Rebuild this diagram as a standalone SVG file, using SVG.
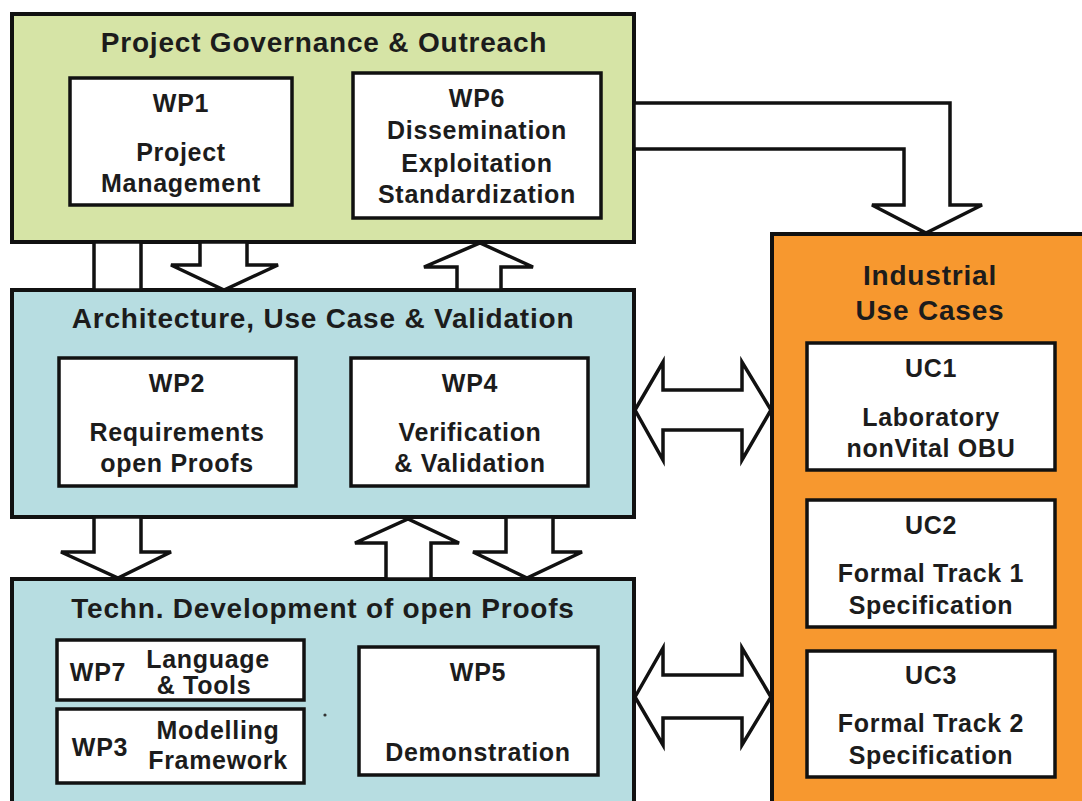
<svg xmlns="http://www.w3.org/2000/svg" width="1082" height="801" viewBox="0 0 1082 801">
<style>
.t{font-family:"Liberation Sans",Arial,sans-serif;font-weight:bold;fill:#1c1c1c;text-anchor:middle;dominant-baseline:central}
.h{font-size:28px;letter-spacing:0.8px}
.b{font-size:25px;letter-spacing:0.7px}
.box{fill:#ffffff;stroke:#111;stroke-width:3.5}
.outer{stroke:#111;stroke-width:4}
.arr{fill:#ffffff;stroke:#111;stroke-width:3.5;stroke-linejoin:miter}
</style>
<rect width="1082" height="801" fill="#ffffff"/>

<g id="governance">
<rect class="outer" x="12" y="14" width="622" height="228" fill="#d6e4a6"/>
<text class="t h" x="324" y="42">Project Governance &amp; Outreach</text>
</g>
<g id="wp1">
<rect class="box" x="70" y="78" width="222" height="127"/>
<text class="t b" x="181" y="103">WP1</text>
<text class="t b" x="181" y="152">Project</text>
<text class="t b" x="181" y="183">Management</text>
</g>
<g id="wp6">
<rect class="box" x="353" y="73" width="248" height="145"/>
<text class="t b" x="477" y="98">WP6</text>
<text class="t b" x="477" y="130">Dissemination</text>
<text class="t b" x="477" y="163">Exploitation</text>
<text class="t b" x="477" y="194">Standardization</text>
</g>

<g id="architecture">
<rect class="outer" x="12" y="290" width="622" height="227" fill="#b7dde1"/>
<text class="t h" x="323" y="318">Architecture, Use Case &amp; Validation</text>
</g>
<g id="wp2">
<rect class="box" x="59" y="358" width="237" height="128"/>
<text class="t b" x="177" y="383">WP2</text>
<text class="t b" x="177" y="432">Requirements</text>
<text class="t b" x="177" y="463">open Proofs</text>
</g>
<g id="wp4">
<rect class="box" x="351" y="358" width="237" height="128"/>
<text class="t b" x="470" y="383">WP4</text>
<text class="t b" x="470" y="432">Verification</text>
<text class="t b" x="470" y="463">&amp; Validation</text>
</g>

<g id="techdev">
<rect class="outer" x="12" y="579" width="622" height="240" fill="#b7dde1"/>
<text class="t h" x="323" y="608">Techn. Development of open Proofs</text>
<circle cx="325" cy="715" r="1.6" fill="#333"/>
</g>
<g id="wp7">
<rect class="box" x="57" y="640" width="247" height="60"/>
<text class="t b" x="98" y="672">WP7</text>
<text class="t b" x="208" y="659">Language</text>
<text class="t b" x="204" y="685">&amp; Tools</text>
</g>
<g id="wp3">
<rect class="box" x="57" y="709" width="247" height="74"/>
<text class="t b" x="100" y="747">WP3</text>
<text class="t b" x="218" y="730">Modelling</text>
<text class="t b" x="218" y="760">Framework</text>
</g>
<g id="wp5">
<rect class="box" x="359" y="647" width="239" height="128"/>
<text class="t b" x="478" y="672">WP5</text>
<text class="t b" x="478" y="752">Demonstration</text>
</g>

<g id="usecases">
<rect class="outer" x="772" y="234" width="330" height="590" fill="#f7982f"/>
<text class="t h" x="930" y="275">Industrial</text>
<text class="t h" x="930" y="310">Use Cases</text>
</g>
<g id="uc1">
<rect class="box" x="807" y="343" width="248" height="127"/>
<text class="t b" x="931" y="368">UC1</text>
<text class="t b" x="931" y="417">Laboratory</text>
<text class="t b" x="931" y="448">nonVital OBU</text>
</g>
<g id="uc2">
<rect class="box" x="807" y="500" width="248" height="127"/>
<text class="t b" x="931" y="525">UC2</text>
<text class="t b" x="931" y="573">Formal Track 1</text>
<text class="t b" x="931" y="605">Specification</text>
</g>
<g id="uc3">
<rect class="box" x="807" y="651" width="248" height="126"/>
<text class="t b" x="931" y="675">UC3</text>
<text class="t b" x="931" y="723">Formal Track 2</text>
<text class="t b" x="931" y="755">Specification</text>
</g>

<g id="connectors">
<rect class="arr" x="94" y="242" width="47" height="48"/>
<polygon class="arr" points="200,242 247,242 247,265 278,265 224,290 171,265 200,265"/>
<polygon class="arr" points="457,290 501,290 501,267 533,267 480,243 424,267 457,267"/>
<polygon class="arr" points="634,103 950,103 950,205 982,205 926,233 872,205 904,205 904,149 634,149"/>
<polygon class="arr" points="94,517 141,517 141,552 171,552 118,578 61,552 94,552"/>
<polygon class="arr" points="386,579 431,579 431,543 459,543 408,519 355,543 386,543"/>
<polygon class="arr" points="506,517 553,517 553,552 582,552 527,578 473,552 506,552"/>
<polygon class="arr" points="635,410 663,362 663,390 742,390 742,362 771,410 742,460 742,430 663,430 663,460"/>
<polygon class="arr" points="635,697 663,648 663,675 742,675 742,648 771,697 742,745 742,718 663,718 663,745"/>
</g>
</svg>
